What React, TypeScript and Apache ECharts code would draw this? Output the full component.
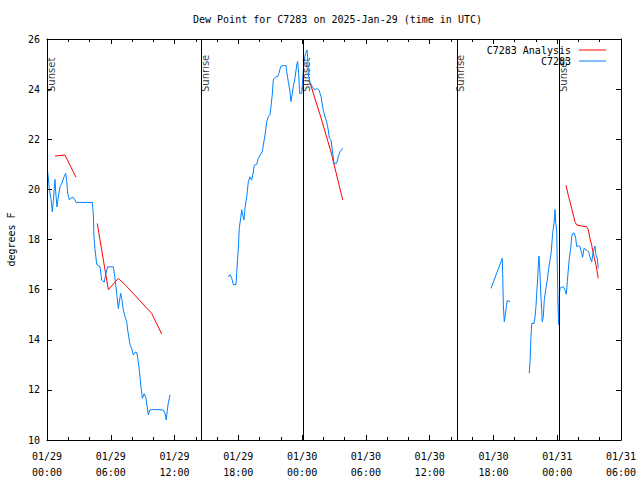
import React, { useEffect, useRef } from "react";
import * as echarts from "echarts";

// hours since 01/29 00:00 UTC
const xTickLabels = [
  "01/29\n00:00", "01/29\n06:00", "01/29\n12:00", "01/29\n18:00", "01/30\n00:00",
  "01/30\n06:00", "01/30\n12:00", "01/30\n18:00", "01/31\n00:00", "01/31\n06:00",
];
const yTicks = [10, 12, 14, 16, 18, 20, 22, 24, 26];

const sunTimes = [0.0, 14.49, 24.08, 38.57, 48.17];
const sunLabels = ["Sunset", "Sunrise", "Sunset", "Sunrise", "Sunset"];

const obsSeg1: [number, number][] = [
  [0.03, 20.8], [0.09, 20.6], [0.22, 20.0], [0.38, 19.6], [0.5, 19.1], [0.59, 19.5],
  [0.75, 20.4], [0.82, 19.9], [0.94, 19.3], [1.06, 19.7], [1.22, 20.1], [1.41, 20.25],
  [1.6, 20.5], [1.76, 20.64], [1.85, 20.35], [1.95, 19.85], [2.1, 19.58], [2.26, 19.65],
  [2.47, 19.68], [2.63, 19.58], [2.73, 19.48], [4.26, 19.48], [4.36, 19.0], [4.42, 18.1],
  [4.52, 17.6], [4.68, 17.0], [4.99, 16.91], [5.15, 16.38], [5.39, 16.3], [5.52, 16.6],
  [5.71, 16.91], [6.24, 16.91], [6.33, 16.65], [6.49, 16.12], [6.59, 15.72], [6.71, 15.25],
  [6.8, 15.5], [6.93, 15.85], [7.03, 15.65], [7.18, 15.2], [7.34, 14.92], [7.5, 14.72],
  [7.59, 14.39], [7.71, 14.06], [7.81, 13.8], [7.97, 13.65], [8.12, 13.39], [8.28, 13.5],
  [8.44, 13.5], [8.53, 13.3], [8.68, 12.8], [8.84, 12.13], [8.97, 11.66], [9.15, 11.85],
  [9.29, 11.7], [9.47, 11.2], [9.53, 11.0], [9.69, 11.2], [10.0, 11.22], [10.94, 11.2],
  [11.1, 11.07], [11.22, 10.8], [11.32, 11.2], [11.41, 11.47], [11.57, 11.8],
];
const obsSeg2: [number, number][] = [
  [17.06, 16.51], [17.22, 16.6], [17.38, 16.45], [17.53, 16.2], [17.78, 16.2], [17.85, 16.7],
  [18.0, 17.65], [18.09, 18.45], [18.22, 18.85], [18.32, 19.19], [18.41, 18.98], [18.53, 18.78],
  [18.63, 19.25], [18.79, 19.7], [18.94, 20.3], [19.1, 20.5], [19.26, 20.37], [19.41, 20.7],
  [19.5, 20.97], [19.73, 21.0], [19.88, 21.24], [20.1, 21.4], [20.25, 21.5], [20.35, 21.77],
  [20.51, 22.17], [20.67, 22.7], [20.82, 22.9], [20.98, 22.99], [21.07, 23.3], [21.19, 23.77],
  [21.29, 24.36], [21.38, 24.43], [21.54, 24.5], [21.7, 24.5], [21.82, 24.63], [21.98, 24.9],
  [22.23, 24.94], [22.48, 24.94], [22.55, 24.7], [22.7, 24.3], [22.86, 23.9], [22.95, 23.5],
  [23.08, 23.83], [23.17, 24.1], [23.33, 24.43], [23.49, 24.96], [23.58, 25.1], [23.68, 24.6],
  [23.77, 23.83], [23.96, 23.83], [24.08, 24.57], [24.21, 25.23], [24.34, 25.43], [24.46, 25.56],
  [24.52, 25.3], [24.58, 24.6], [24.74, 24.27], [24.96, 24.1], [25.21, 23.97], [25.37, 24.03],
  [25.59, 23.96], [25.78, 23.7], [25.99, 23.16], [26.15, 22.9], [26.31, 22.7], [26.46, 22.37],
  [26.56, 22.04], [26.72, 21.97], [26.84, 21.57], [27.0, 21.04], [27.25, 21.04], [27.4, 21.3],
  [27.56, 21.5], [27.82, 21.64],
];
const obsSeg3: [number, number][] = [
  [41.77, 16.05], [42.83, 17.25], [42.87, 16.65], [42.93, 15.38], [43.02, 14.72], [43.18, 15.2],
  [43.3, 15.56], [43.56, 15.52],
];
const obsSeg4: [number, number][] = [
  [45.37, 12.66], [45.44, 13.12], [45.53, 14.12], [45.6, 14.65], [45.81, 14.65], [45.91, 14.9],
  [46.0, 15.32], [46.07, 15.85], [46.16, 16.45], [46.22, 16.98], [46.28, 17.34], [46.35, 16.9],
  [46.44, 15.98], [46.54, 15.19], [46.59, 14.72], [46.69, 14.92], [46.78, 15.58], [46.91, 15.98],
  [47.07, 16.38], [47.2, 16.85], [47.32, 17.18], [47.44, 17.51], [47.57, 18.25], [47.7, 18.65],
  [47.79, 19.2], [47.86, 18.65], [47.95, 18.38], [48.01, 16.91], [48.07, 15.38], [48.14, 14.6],
  [48.19, 15.73], [48.26, 16.06], [48.42, 16.09], [48.57, 16.12], [48.73, 15.98], [48.85, 15.82],
  [48.95, 16.31], [49.04, 16.78], [49.14, 17.25], [49.27, 17.65], [49.36, 18.11], [49.46, 18.25],
  [49.61, 18.25], [49.74, 18.05], [49.83, 17.72], [49.98, 17.75], [50.14, 17.72], [50.3, 17.45],
  [50.39, 17.29], [50.52, 17.65], [50.77, 17.56], [50.96, 17.51], [51.08, 17.31], [51.24, 17.11],
  [51.39, 17.51], [51.55, 17.74], [51.65, 17.38], [51.77, 17.25], [51.86, 16.85],
];

const anaSeg1: [number, number][] = [
  [0.75, 21.33], [1.22, 21.35], [1.69, 21.37], [2.73, 20.48],
];
const anaSeg2: [number, number][] = [
  [4.73, 18.64], [5.77, 16.0], [6.71, 16.45], [7.34, 16.2], [9.85, 15.05], [10.79, 14.23],
];
const anaSeg3: [number, number][] = [
  [24.74, 24.26], [25.78, 22.85], [26.72, 21.49], [27.82, 19.58],
];
const anaSeg4: [number, number][] = [
  [48.82, 20.17], [49.04, 19.77], [49.36, 19.24], [49.67, 18.71], [49.83, 18.58], [50.3, 18.54],
  [50.77, 18.51], [50.93, 18.38], [51.08, 18.04], [51.24, 17.78], [51.46, 17.31], [51.65, 16.98],
  [51.86, 16.45],
];

const OBS_NAME = "C7283";
const ANA_NAME = "C7283 Analysis";
const BLUE = "#0080ff";
const RED = "#ff0000";
const MONO = "DejaVu Sans Mono";

export default function App() {
  const ref = useRef<HTMLDivElement>(null);
  useEffect(() => {
    if (!ref.current) return;
    const chart = echarts.init(ref.current, undefined, { renderer: "svg" });
    const axisCommon = {
      type: "value" as const,
      axisLine: { show: true, onZero: false, lineStyle: { color: "#000", width: 1 } },
      splitLine: { show: false },
    };
    const xCommon = {
      ...axisCommon,
      min: 0,
      max: (xTickLabels.length - 1) * 6,
      interval: 6,
      axisTick: { show: true, inside: true, length: 5, lineStyle: { color: "#000" } },
      minorTick: { show: true, splitNumber: 3, length: 3, lineStyle: { color: "#000" } },
    };
    const yCommon = {
      ...axisCommon,
      min: yTicks[0],
      max: yTicks[yTicks.length - 1],
      interval: 2,
      axisTick: { show: true, inside: true, length: 5, lineStyle: { color: "#000" } },
    };
    const lineSeries = (name: string, color: string, seg: [number, number][]) => ({
      type: "line",
      name,
      data: seg,
      symbol: "none",
      showSymbol: false,
      lineStyle: { color, width: 1 },
      itemStyle: { color },
      z: 3,
    });
    chart.setOption({
      animation: false,
      title: {
        text: "Dew Point for C7283 on 2025-Jan-29 (time in UTC)",
        left: 188,
        top: 9,
        textStyle: { fontFamily: MONO, fontSize: 10, fontWeight: "normal", color: "#000" },
      },
      legend: {
        data: [
          { name: ANA_NAME, icon: "rect", itemStyle: { color: RED } },
          { name: OBS_NAME, icon: "rect", itemStyle: { color: BLUE } },
        ],
        orient: "vertical",
        right: 29,
        top: 40,
        align: "right",
        itemWidth: 27,
        itemHeight: 1,
        itemGap: 1,
        textStyle: { fontFamily: MONO, fontSize: 10, color: "#000", padding: [0, 3, 0, 0] },
        selectedMode: false,
      },
      grid: { left: 47, right: 19, top: 39, bottom: 40, outerBoundsMode: "none", containLabel: false },
      xAxis: [
        {
          ...xCommon,
          position: "bottom",
          axisLabel: {
            fontFamily: MONO,
            fontSize: 10,
            color: "#000",
            lineHeight: 16,
            margin: 8,
            formatter: (v: number) => xTickLabels[Math.round(v / 6)] ?? "",
          },
        },
        { ...xCommon, position: "top", axisLabel: { show: false } },
      ],
      yAxis: [
        {
          ...yCommon,
          position: "left",
          name: "degrees F",
          nameLocation: "middle",
          nameGap: 31,
          nameTextStyle: { fontFamily: MONO, fontSize: 10, color: "#000" },
          axisLabel: { fontFamily: MONO, fontSize: 10, color: "#000", margin: 7 },
        },
        { ...yCommon, position: "right", axisLabel: { show: false } },
      ],
      series: [
        {
          type: "scatter",
          name: "sun",
          data: sunTimes.map((h) => [h, 23.885]),
          symbolSize: 0,
          silent: true,
          z: 2,
          label: {
            show: true,
            position: [4, 0],
            rotate: 90,
            align: "left",
            verticalAlign: "middle",
            fontFamily: "DejaVu Sans",
            fontSize: 10,
            color: "#000",
            formatter: (p: any) => sunLabels[p.dataIndex],
          },
          markLine: {
            silent: true,
            symbol: ["none", "none"],
            label: { show: false },
            lineStyle: { color: "#000", width: 1, type: "solid" },
            emphasis: { disabled: true },
            data: sunTimes.map((h) => ({ xAxis: h })),
          },
        },
        ...[anaSeg1, anaSeg2, anaSeg3, anaSeg4].map((s) => lineSeries(ANA_NAME, RED, s)),
        ...[obsSeg1, obsSeg2, obsSeg3, obsSeg4].map((s) => lineSeries(OBS_NAME, BLUE, s)),
      ],
    });
    return () => chart.dispose();
  }, []);
  return (
    <div
      ref={ref}
      style={{ position: "fixed", left: 0, top: 0, width: 640, height: 480, background: "#fff" }}
    />
  );
}
